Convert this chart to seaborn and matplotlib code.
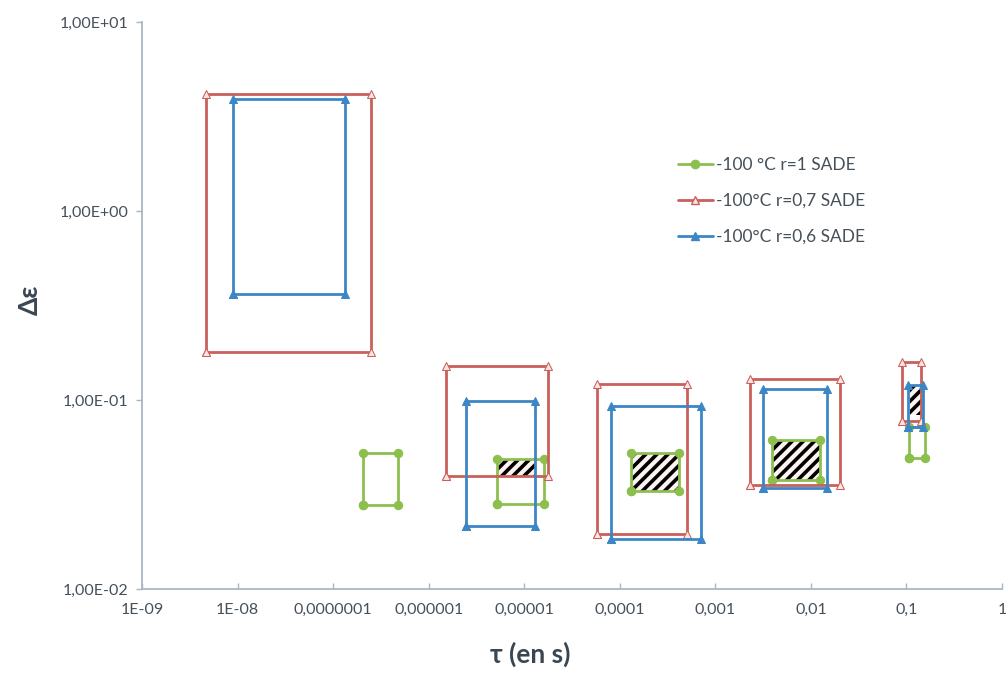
import matplotlib
matplotlib.use('Agg')
import matplotlib.pyplot as plt
from matplotlib.lines import Line2D
import pandas as pd
import seaborn as sns

# rectangles (tau min, tau max, eps min, eps max) for each series
series_names = ['-100 °C r=1 SADE', '-100°C r=0,7 SADE', '-100°C r=0,6 SADE']

green_tau_lo = [2.06e-7, 5.2e-6, 1.31e-4, 3.92e-3, 0.106]
green_tau_hi = [4.78e-7, 1.61e-5, 4.17e-4, 1.245e-2, 0.156]
green_eps_lo = [0.0278, 0.0282, 0.0330, 0.0378, 0.0493]
green_eps_hi = [0.0525, 0.0488, 0.0525, 0.0614, 0.0720]

red_tau_lo = [4.7e-9, 1.52e-6, 5.77e-5, 2.30e-3, 0.0897]
red_tau_hi = [2.5e-7, 1.77e-5, 5.05e-4, 2.01e-2, 0.142]
red_eps_lo = [0.180, 0.0396, 0.0195, 0.0355, 0.0774]
red_eps_hi = [4.16, 0.151, 0.1216, 0.129, 0.159]

blue_tau_lo = [8.95e-9, 2.45e-6, 8.09e-5, 3.16e-3, 0.104]
blue_tau_hi = [1.33e-7, 1.30e-5, 7.08e-4, 1.47e-2, 0.149]
blue_eps_lo = [0.364, 0.0216, 0.0184, 0.0342, 0.0720]
blue_eps_hi = [3.90, 0.0989, 0.0929, 0.1143, 0.120]

# hatched common zones
hatch_tau_lo = [5.2e-6, 1.31e-4, 3.92e-3, 0.109]
hatch_tau_hi = [1.30e-5, 4.17e-4, 1.245e-2, 0.142]
hatch_eps_lo = [0.0396, 0.0330, 0.0378, 0.0833]
hatch_eps_hi = [0.0488, 0.0525, 0.0614, 0.120]

xticks = [1e-9, 1e-8, 1e-7, 1e-6, 1e-5, 1e-4, 1e-3, 1e-2, 1e-1, 1]
xticklabels = ['1E-09', '1E-08', '0,0000001', '0,000001', '0,00001',
               '0,0001', '0,001', '0,01', '0,1', '1']
yticks = [1e-2, 1e-1, 1, 10]
yticklabels = ['1,00E-02', '1,00E-01', '1,00E+00', '1,00E+01']


def corners(name, tlo, thi, elo, ehi):
    rows = []
    for i in range(len(tlo)):
        pts = [(tlo[i], elo[i]), (tlo[i], ehi[i]), (thi[i], ehi[i]),
               (thi[i], elo[i]), (tlo[i], elo[i])]
        for k, (t, e) in enumerate(pts):
            rows.append({'series': name, 'rect': i, 'order': k, 'tau': t, 'eps': e})
    return rows


df = pd.DataFrame(
    corners(series_names[0], green_tau_lo, green_tau_hi, green_eps_lo, green_eps_hi)
    + corners(series_names[1], red_tau_lo, red_tau_hi, red_eps_lo, red_eps_hi)
    + corners(series_names[2], blue_tau_lo, blue_tau_hi, blue_eps_lo, blue_eps_hi)
)

# ====
# plot
# ====

sns.set_style('white')
plt.rcParams['font.family'] = ['Lato', 'DejaVu Sans']
plt.rcParams['hatch.linewidth'] = 2.6

fig = plt.figure(figsize=(10.06, 6.9), dpi=100)
ax = fig.add_axes([142 / 1006, 1 - 589 / 690, 860 / 1006, 567 / 690])

colors = ['#8dbf4f', '#c9605c', '#3c86c6']
styles = [
    dict(marker='o', markersize=6, markerfacecolor=colors[0], markeredgecolor=colors[0]),
    dict(marker='^', markersize=6, markerfacecolor='#fbe6e2', markeredgecolor=colors[1]),
    dict(marker='^', markersize=6, markerfacecolor=colors[2], markeredgecolor=colors[2]),
]

for i in range(len(hatch_tau_lo)):
    ax.fill_between([hatch_tau_lo[i], hatch_tau_hi[i]], hatch_eps_lo[i], hatch_eps_hi[i],
                    facecolor='#fdf3f0', edgecolor='black', hatch='///', linewidth=0, zorder=1)

for name, c, st in zip(series_names, colors, styles):
    sns.lineplot(data=df[df.series == name], x='tau', y='eps', units='rect',
                 estimator=None, sort=False, color=c, linewidth=2, ax=ax,
                 zorder=2, **st)

ax.set_xscale('log')
ax.set_yscale('log')
ax.set_xlim(1e-9, 1)
ax.set_ylim(1e-2, 10)
ax.minorticks_off()
ax.set_xticks(xticks)
ax.set_xticklabels(xticklabels)
ax.set_yticks(yticks)
ax.set_yticklabels(yticklabels)

for s in ['top', 'right']:
    ax.spines[s].set_visible(False)
for s in ['left', 'bottom']:
    ax.spines[s].set_color('#a9b6c2')
    ax.spines[s].set_linewidth(1.3)

ax.tick_params(axis='x', direction='in', length=4, width=1, color='#a9b6c2',
               pad=10, labelsize=11.5, labelcolor='#45505a', bottom=True)
ax.tick_params(axis='y', direction='out', length=4, width=1, color='#a9b6c2',
               pad=6, labelsize=11.5, labelcolor='#45505a', left=True)

ax.set_xlabel('τ (en s)', fontsize=19, fontweight='bold', color='#3a4652')
ax.xaxis.set_label_coords(0.452, -0.116)
ax.set_ylabel('Δε', fontsize=19, fontweight='bold', color='#3a4652')
ax.yaxis.set_label_coords(-0.13, 0.51)
ax.yaxis.label.set_va('center')
ax.xaxis.label.set_va('center')

handles = [Line2D([], [], color=c, linewidth=2, **st) for c, st in zip(colors, styles)]
ax.legend(handles, series_names, loc='upper left', bbox_to_anchor=(0.605, 0.79),
          frameon=False, fontsize=12.5, labelcolor='#45505a', handlelength=2.0,
          handletextpad=0.2, labelspacing=1.15)

plt.savefig('out.png', dpi=100)
